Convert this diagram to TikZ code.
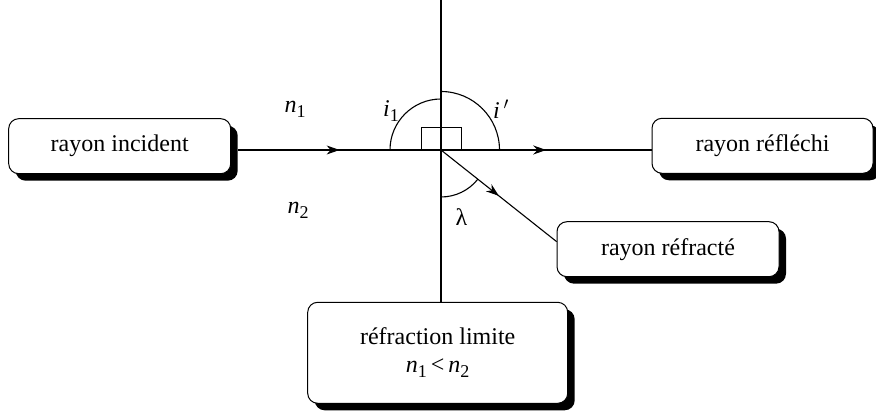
\documentclass[tikz,border=0pt]{standalone}
\usepackage{fontspec}
\setmainfont{Liberation Serif}
\usetikzlibrary{decorations.markings,arrows.meta,shadows}
\newcommand\nsub[1]{\textit{n}\raisebox{-0.45ex}{\fontsize{18}{18}\selectfont #1}}
\tikzset{
  boxnode/.style={draw, line width=1pt, rounded corners=10pt, fill=white, align=center,
    font=\fontsize{24}{28}\selectfont, inner sep=0pt,
    drop shadow={shadow xshift=7pt, shadow yshift=-7pt, fill=black, opacity=1}},
  ray/.style={line width=1.1pt},
  midarrow/.style={postaction={decorate}, decoration={markings,
    mark=at position #1 with {\arrow{Stealth[length=13pt,width=9pt]}}}},
  lab/.style={font=\fontsize{24}{28}\selectfont, inner sep=0pt}
}
\begin{document}
\begin{tikzpicture}[x=1pt,y=1pt]
\useasboundingbox (0,0) rectangle (876,412);
% boxes
\node[boxnode, minimum width=222pt, minimum height=55pt] (inc) at (119.7,265.8) {rayon incident};
\node[boxnode, minimum width=221pt, minimum height=55pt] (refl) at (762.5,266.2) {rayon réfléchi};
\node[boxnode, minimum width=222pt, minimum height=55pt] (refr) at (668,162.8) {rayon réfracté};
\node[boxnode, minimum width=260pt, minimum height=101pt] (lim) at (437.7,59.2) {réfraction limite\\[0pt]\nsub{1}\,<\,\nsub{2}};
% center
\coordinate (C) at (441,262);
\coordinate (top) at (441,412);
\coordinate (R) at (556.7,170.3);
% vertical normal
\draw[ray] (top) -- (C |- lim.north);
% incident
\draw[ray, midarrow=0.5] ([xshift=7pt]inc.east |- C) -- (C);
% reflected
\draw[ray, midarrow=0.5] (C) -- (refl.west |- C);
% refracted
\draw[ray, midarrow=0.5] (C) -- (R);
% arcs
\draw[ray] ([shift={(180:51)}]C) arc[start angle=180, end angle=90, radius=51];
\draw[ray] ([shift={(90:58.5)}]C) arc[start angle=90, end angle=0, radius=58.5];
\draw[ray] ([shift={(-90:47)}]C) arc[start angle=-90, end angle=-38.4, radius=47];
% right angle box
\draw[ray] (421.7,262) rectangle (461.7,284.7);
% labels
\node[lab] (i1) at (391,301) {\textit{i}\raisebox{-0.45ex}{\fontsize{18}{18}\selectfont 1}};
\node[lab] (ip) at (501,302.5) {\textit{i}\,$'$};
\node[lab] (lam) at (461.5,195) {λ};
\node[lab] (n1) at (295,303) {\nsub{1}};
\node[lab] (n2) at (298,202) {\nsub{2}};
\end{tikzpicture}
\end{document}
